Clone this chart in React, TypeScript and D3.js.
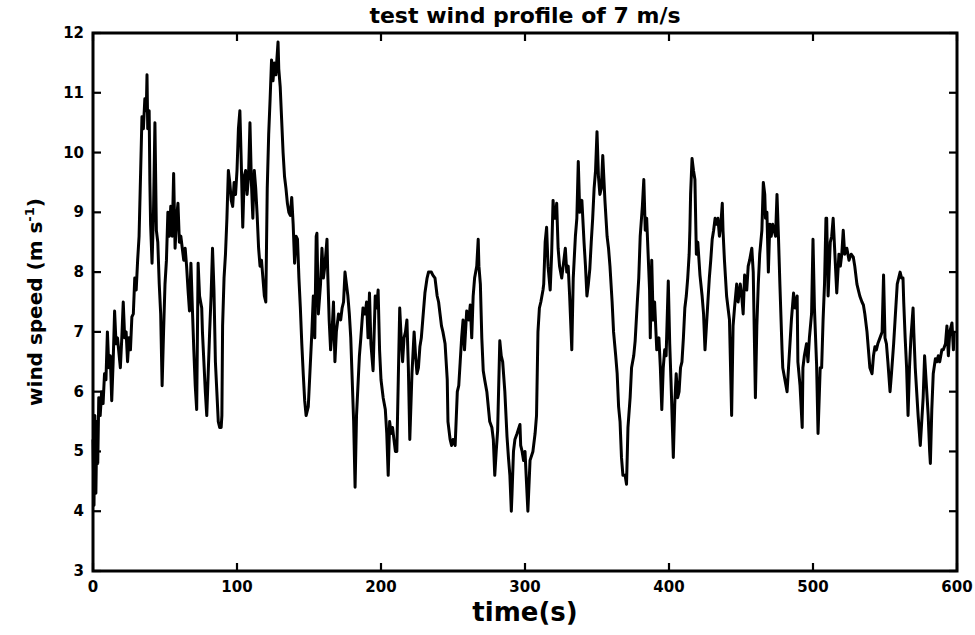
import * as d3 from "d3";

// wind speed trace, [time (s), speed (m/s)]
const windSeries: [number, number][] = [
  [0, 5.2], [0.7, 4.1], [1.3, 5.6], [2, 4.3], [2.7, 5.5], [3.3, 4.8], [4, 5.9], [5, 5.6], [6, 6.0], [7, 5.8],
  [8, 6.3], [9, 6.2], [10, 7.0], [11, 6.4], [12, 6.6], [13, 5.85], [14, 6.5], [15, 7.35], [16, 6.8], [17, 6.9],
  [19, 6.4], [20, 6.9], [21, 7.5], [22, 6.9], [23, 7.0], [24, 6.5], [25, 6.9], [26, 6.7], [27, 7.25], [28, 7.3],
  [29, 7.9], [30, 7.7], [31, 8.2], [32, 8.6], [33, 9.6], [34, 10.6], [35, 10.4], [36, 10.9], [37, 10.7], [37.5, 11.3],
  [38, 10.4], [39, 10.7], [39.5, 9.5], [40, 8.8], [41, 8.15], [42, 9.0], [43, 10.5], [43.5, 9.6], [44, 8.7], [45, 8.5],
  [46, 7.8], [47, 7.3], [48, 6.1], [49, 7.0], [50, 7.8], [51, 8.2], [52, 9.0], [53, 8.6], [54, 9.1], [55, 8.6],
  [56, 9.65], [57, 8.4], [58, 8.9], [59, 9.15], [60, 8.5], [61, 8.6], [62, 8.4], [63, 8.2], [64, 8.4], [65, 8.1],
  [66, 7.7], [67, 7.35], [68, 8.15], [69, 7.4], [70, 6.7], [71, 6.1], [72, 5.7], [73, 8.15], [74, 7.6], [75.5, 7.4],
  [76, 7.0], [77, 6.5], [78, 6.0], [79, 5.6], [80, 6.3], [81, 7.0], [82, 7.6], [83, 8.4], [84, 7.7], [85, 6.5],
  [86, 6.0], [87, 5.5], [88, 5.4], [89, 5.4], [89.5, 5.6], [90, 7.1], [91, 7.9], [92, 8.3], [93, 8.9], [94, 9.7],
  [95, 9.5], [96, 9.2], [97, 9.1], [98, 9.5], [99, 9.3], [100, 9.7], [101, 10.4], [102, 10.7], [103, 9.8], [104, 8.75],
  [105, 9.6], [106, 9.7], [107, 9.3], [108, 9.6], [109, 10.5], [110, 9.5], [111, 8.9], [112, 9.7], [113, 9.4], [114, 8.95],
  [115, 8.4], [116, 8.1], [117, 8.2], [118, 7.9], [119, 7.6], [120, 7.5], [121, 9.4], [122, 10.3], [123, 10.9], [124, 11.55],
  [125, 11.2], [126, 11.5], [127, 11.3], [128.5, 11.85], [129, 11.4], [130, 11.1], [131, 10.55], [132, 10.0], [133, 9.6], [134, 9.4],
  [135, 9.15], [136, 9.0], [137, 8.95], [138, 9.25], [139, 8.8], [140, 8.15], [141, 8.6], [142, 8.55], [143, 7.9], [144, 7.4],
  [145, 6.8], [146, 6.3], [147, 5.85], [148, 5.6], [149.5, 5.75], [151, 6.5], [152, 7.0], [153, 7.6], [154, 6.9], [155, 8.6],
  [155.5, 8.65], [156.5, 7.3], [158, 7.8], [159, 8.4], [160, 7.9], [161, 8.1], [162.5, 8.55], [163, 8.0], [164, 7.2], [165, 6.7],
  [166, 7.0], [167, 7.5], [168, 6.5], [169, 7.0], [170.5, 7.3], [172, 7.2], [173, 7.4], [174, 7.5], [175, 8.0], [176, 7.8],
  [177, 7.6], [178, 7.3], [179, 6.9], [180, 6.2], [181, 5.5], [182, 4.4], [183, 5.6], [184, 6.1], [185, 6.6], [186, 6.9],
  [187.5, 7.4], [188, 7.3], [189, 7.3], [190, 7.5], [191, 6.9], [192, 7.65], [193, 6.8], [194.5, 6.35], [196, 7.6], [197, 7.4],
  [198, 7.7], [199, 6.7], [200, 6.2], [201.5, 5.9], [203, 5.7], [204, 5.3], [205, 4.6], [206, 5.5], [207, 5.3], [208, 5.4],
  [209, 5.2], [210, 5.0], [211, 5.0], [212, 6.2], [213, 7.4], [214, 6.9], [215, 6.5], [216, 6.9], [217, 7.0], [218, 7.2],
  [219, 6.4], [220, 5.2], [221.5, 6.3], [223, 7.0], [224, 6.6], [225, 6.3], [226, 6.4], [227, 6.75], [228, 6.9], [229, 7.2],
  [230.5, 7.65], [232, 7.9], [233, 8.0], [235, 8.0], [236, 7.95], [237.5, 7.9], [239, 7.6], [240, 7.5], [241, 7.3], [242, 7.1],
  [243, 7.0], [244.5, 6.8], [246, 6.2], [246.5, 5.5], [248, 5.2], [249, 5.1], [250, 5.2], [251.5, 5.1], [253, 6.0], [254, 6.1],
  [255, 6.5], [256, 6.9], [257, 7.2], [258, 6.7], [259.5, 7.35], [261, 7.2], [262, 7.45], [263, 6.9], [264, 7.6], [265, 7.9],
  [266.5, 8.1], [267.5, 8.55], [268, 8.1], [269, 7.8], [270, 6.9], [271, 6.35], [272, 6.2], [273.5, 6.0], [275.5, 5.5], [277, 5.4],
  [278, 5.2], [279, 4.6], [280, 5.0], [281, 5.35], [282.5, 6.85], [283.5, 6.6], [284.5, 6.5], [286, 6.0], [287.5, 5.25], [288.5, 4.9],
  [289.5, 4.6], [290.5, 4.0], [291, 4.3], [292, 5.0], [293, 5.2], [294.5, 5.3], [296.5, 5.45], [297, 5.1], [298, 5.0], [299, 4.85],
  [300, 5.0], [301, 4.5], [302, 4.0], [303.5, 4.85], [305.5, 5.0], [307, 5.3], [308, 5.6], [309, 7.0], [310, 7.4], [311, 7.5],
  [312.5, 7.7], [313, 7.8], [314, 8.5], [315, 8.75], [316, 8.1], [317.5, 7.7], [318.5, 8.3], [319.5, 9.2], [320, 9.0], [321, 8.9],
  [322, 9.15], [323, 8.4], [324, 8.1], [325.5, 7.9], [327, 8.2], [328, 8.4], [329, 8.0], [330, 8.1], [331, 7.6], [332.5, 6.7],
  [333.5, 7.9], [335, 8.6], [336, 8.9], [337, 9.85], [338, 9.0], [339.5, 9.2], [341, 8.5], [342, 8.1], [343, 7.6], [344, 7.8],
  [345, 8.05], [346, 8.5], [347, 8.9], [348, 9.4], [349, 9.7], [350, 10.35], [351, 9.6], [352, 9.3], [353, 9.4], [354, 9.95],
  [355.5, 9.2], [357, 8.6], [358, 8.4], [359, 8.1], [360.5, 7.5], [361.5, 7.0], [363, 6.6], [364, 6.3], [365, 5.75], [366, 5.5],
  [367, 4.9], [368, 4.6], [369.5, 4.6], [370.5, 4.45], [371.5, 5.4], [373, 5.9], [374, 6.4], [375.5, 6.6], [376.5, 6.85], [378, 7.5],
  [379, 7.9], [380, 8.6], [381.5, 9.1], [382.5, 9.55], [383.5, 8.7], [384.5, 8.9], [385.5, 8.3], [386.5, 7.7], [387, 6.9], [388, 8.2],
  [389, 7.2], [390, 7.5], [391.5, 6.7], [393, 6.9], [394, 6.4], [395, 5.7], [396, 6.4], [397, 6.7], [398, 6.6], [399.5, 7.85],
  [400.5, 6.8], [401.5, 6.1], [403, 4.9], [404, 5.8], [405, 6.3], [406, 5.9], [407, 6.0], [408, 6.4], [409, 6.5], [410, 6.9],
  [411, 7.4], [412, 7.6], [413, 7.9], [414, 8.3], [414.5, 8.7], [415, 9.3], [416, 9.9], [417, 9.7], [418, 9.55], [419, 8.3],
  [420, 8.5], [421.5, 7.95], [423, 7.6], [424, 7.3], [425, 6.7], [426, 7.1], [427, 7.5], [428, 7.9], [429, 8.2], [430, 8.55],
  [431, 8.7], [432, 8.9], [433, 8.8], [434, 8.9], [435, 8.6], [436, 8.8], [437, 9.15], [437.5, 8.7], [438.5, 8.2], [440, 7.6],
  [441, 7.4], [442, 7.2], [443.5, 5.6], [444.5, 7.1], [445.5, 7.4], [447, 7.8], [448, 7.5], [449.5, 7.8], [450.5, 7.6], [451.5, 7.3],
  [452.5, 7.95], [454, 7.7], [455, 8.1], [456, 8.2], [457.5, 8.4], [458.5, 8.0], [459.5, 6.6], [460, 5.9], [461, 7.1], [462, 7.8],
  [463, 8.3], [464.5, 8.7], [465.5, 9.5], [466.5, 9.3], [467, 8.9], [468, 9.0], [469, 8.0], [470, 8.8], [471, 8.6], [472, 8.8],
  [473, 8.7], [474, 8.6], [475, 9.3], [476, 8.6], [477, 7.8], [478.5, 6.7], [479, 6.4], [480.5, 6.2], [482, 6.0], [483, 6.4],
  [484, 6.8], [485, 7.2], [486.5, 7.65], [487.5, 7.4], [489, 7.6], [489.5, 6.5], [491, 6.1], [492.5, 5.4], [493, 6.4], [494, 6.6],
  [495.5, 6.8], [496.5, 6.5], [497.5, 6.9], [499, 7.3], [500, 8.55], [501, 7.4], [502.5, 6.45], [503.5, 5.3], [505, 6.4], [506, 6.4],
  [507, 7.2], [508, 7.8], [509, 8.9], [509.5, 8.9], [510.5, 7.6], [512, 8.5], [513, 8.6], [514, 8.9], [515, 8.4], [516.5, 7.65],
  [518, 8.3], [519, 8.1], [520, 8.3], [521, 8.7], [522, 8.3], [523.5, 8.4], [525, 8.2], [526.5, 8.3], [528, 8.25], [529, 8.1],
  [530.5, 7.8], [531.5, 7.7], [532.5, 7.6], [534, 7.5], [535, 7.45], [536, 7.3], [537.5, 7.0], [538.5, 6.7], [539.5, 6.4], [541, 6.3],
  [542, 6.6], [543, 6.75], [544, 6.7], [545, 6.8], [546.5, 6.9], [548, 7.0], [549, 7.95], [550, 6.9], [551, 6.8], [552, 6.5],
  [553.5, 6.0], [554.5, 6.3], [556, 6.8], [557, 7.2], [558.5, 7.8], [560.5, 8.0], [561.5, 7.9], [562.5, 7.9], [563, 7.5], [564, 6.9],
  [565, 6.4], [566, 5.6], [567, 6.4], [568, 6.9], [569.5, 7.4], [570, 7.0], [571, 6.4], [572, 6.0], [573, 5.6], [574.5, 5.1],
  [575.5, 5.5], [576.5, 5.9], [577.5, 6.6], [579, 6.0], [580, 5.6], [581, 5.0], [581.5, 4.8], [582.5, 5.7], [583.5, 6.3], [585, 6.55],
  [586, 6.5], [587, 6.6], [588, 6.5], [589.5, 6.7], [590.5, 6.7], [592, 6.8], [593, 7.1], [594, 6.6], [595, 7.0], [596.5, 7.15],
  [597.5, 6.7], [598, 7.0],
];

const xTicks = [0, 100, 200, 300, 400, 500, 600];
const yTicks = [3, 4, 5, 6, 7, 8, 9, 10, 11, 12];

const width = 975;
const height = 635;
const marginLeft = 93;
const marginRight = 18;
const marginTop = 33;
const marginBottom = 64;
const tickLen = 8;
const font = "'DejaVu Sans', Arial, sans-serif";

export default function App() {
  const x = d3.scaleLinear([0, 600], [marginLeft, width - marginRight]);
  const y = d3.scaleLinear([3, 12], [height - marginBottom, marginTop]);
  const line = d3
    .line<[number, number]>()
    .x((d) => x(d[0]))
    .y((d) => y(d[1]));

  const x0 = x(0);
  const x1 = x(600);
  const y0 = y(3);
  const y1 = y(12);

  return (
    <svg
      width={width}
      height={height}
      style={{ position: "absolute", left: 0, top: 0, background: "#fff" }}
    >
      <path
        d={line(windSeries) ?? ""}
        fill="none"
        stroke="#000"
        strokeWidth={3}
        strokeLinejoin="round"
      />
      <g stroke="#000" strokeWidth={2.2}>
        {xTicks.map((t) => (
          <g key={t}>
            <line x1={x(t)} x2={x(t)} y1={y0} y2={y0 - tickLen} />
            <line x1={x(t)} x2={x(t)} y1={y1} y2={y1 + tickLen} />
          </g>
        ))}
        {yTicks.map((t) => (
          <g key={t}>
            <line x1={x0} x2={x0 + tickLen} y1={y(t)} y2={y(t)} />
            <line x1={x1} x2={x1 - tickLen} y1={y(t)} y2={y(t)} />
          </g>
        ))}
      </g>
      <rect
        x={x0}
        y={y1}
        width={x1 - x0}
        height={y0 - y1}
        fill="none"
        stroke="#000"
        strokeWidth={3}
      />
      <g fontFamily={font} fontWeight="bold" fontSize={15} fill="#000">
        {xTicks.map((t) => (
          <text key={t} x={x(t)} y={y0 + 21} textAnchor="middle">
            {t}
          </text>
        ))}
        {yTicks.map((t) => (
          <text key={t} x={x0 - 9} y={y(t) + 5} textAnchor="end">
            {t}
          </text>
        ))}
      </g>
      <text
        x={(x0 + x1) / 2}
        y={23}
        textAnchor="middle"
        fontFamily={font}
        fontWeight="bold"
        fontSize={22}
      >
        test wind profile of 7 m/s
      </text>
      <text
        x={(x0 + x1) / 2}
        y={621}
        textAnchor="middle"
        fontFamily={font}
        fontWeight="bold"
        fontSize={26}
      >
        time(s)
      </text>
      <text
        transform={`translate(42,${(y0 + y1) / 2}) rotate(-90)`}
        textAnchor="middle"
        fontFamily={font}
        fontWeight="bold"
        fontSize={20}
      >
        wind speed (m s
        <tspan dy={-8} fontSize={13}>-1</tspan>
        <tspan dy={8}>)</tspan>
      </text>
    </svg>
  );
}
